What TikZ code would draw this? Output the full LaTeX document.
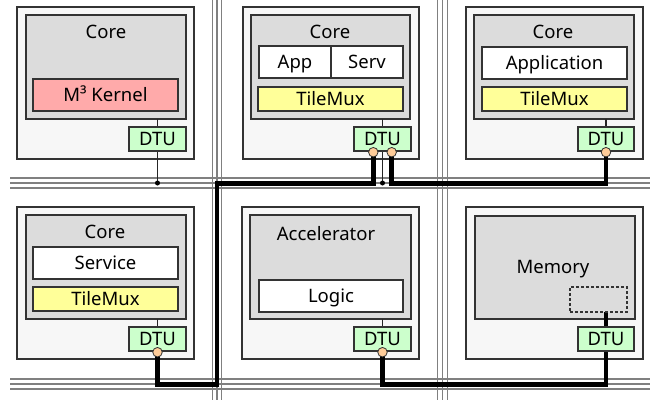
\documentclass[tikz,border=0pt]{standalone}
\usepackage{fontspec}
\setmainfont{Noto Sans}
\definecolor{tilebg}{HTML}{F7F7F7}
\definecolor{corebg}{HTML}{DCDCDC}
\definecolor{kernelc}{HTML}{FFAAAA}
\definecolor{muxc}{HTML}{FFFF99}
\definecolor{dtuc}{HTML}{CCFFCC}
\definecolor{portc}{HTML}{FFCC99}
\definecolor{busgray}{HTML}{808080}
\pgfdeclarelayer{bg}
\pgfdeclarelayer{wires}
\pgfsetlayers{bg,wires,main}
\begin{document}
\begin{tikzpicture}[x=1pt,y=-1pt,
 every node/.style={inner sep=0pt,outer sep=0pt,font=\fontsize{18.5}{22}\selectfont},
 bx/.style 2 args={minimum width=#1pt,minimum height=#2pt,anchor=north west},
 tile/.style={draw=black!80,line width=1.1pt,fill=tilebg},
 corebox/.style={draw=black!80,line width=1.1pt,fill=corebg},
 part/.style={draw=black!80,line width=1.1pt,fill=white,text height=13.3pt,text depth=0pt},
 dtubox/.style={part,fill=dtuc},
 portdot/.style={circle,draw=black!80,line width=0.8pt,fill=portc,minimum size=9.5pt},
 joint/.style={circle,fill=black,minimum size=5pt},
 busline/.style={draw=busgray,line width=1.2pt},
 wire/.style={draw=black!85,line width=1.1pt},
 trunk/.style={draw=black,line width=4.6pt},
]
\useasboundingbox (0,0) rectangle (654,400);

\begin{pgfonlayer}{bg}
% network grid
\foreach \yy in {178,183,188,379,384,389} \draw[busline] (10,\yy) -- (650,\yy);
\foreach \xx in {212.5,217,221.5,437.5,442.5,447.5} \draw[busline] (\xx,0) -- (\xx,400);
\node[tile,bx={177}{152}] (t1) at (17,7) {};
\node[corebox,bx={160}{104}] (k1) at (26,15) {};
\node[tile,bx={176}{152}] (t2) at (243,7) {};
\node[corebox,bx={159}{104}] (k2) at (251,15) {};
\node[tile,bx={177}{152}] (t3) at (466,7) {};
\node[corebox,bx={160}{104}] (k3) at (474,15) {};
\node[tile,bx={177}{152}] (t4) at (17,207) {};
\node[corebox,bx={160}{104}] (k4) at (26,215) {};
\node[tile,bx={177}{152}] (t5) at (242,207) {};
\node[corebox,bx={161}{104}] (k5) at (250,215) {};
\node[tile,bx={177}{152}] (t6) at (466,207) {};
\node[corebox,bx={160}{103}] (k6) at (475,216) {};
\end{pgfonlayer}

% labels
\node[anchor=base] (l1) at (106,38) {Core};
\node[anchor=base] (l2) at (330,38) {Core};
\node[anchor=base] (l3) at (553,38) {Core};
\node[anchor=base] (l4) at (105,238) {Core};
\node[anchor=base] (l5) at (326,240) {Accelerator};
\node[anchor=base] (l6) at (553,273) {Memory};

% parts
\node[part,fill=kernelc,bx={145}{32}] (kern) at (33,79) {M³ Kernel};
\node[part,bx={72}{32}] (app) at (259,46) {App};
\node[part,bx={72}{32}] (serv) at (331,46) {Serv};
\node[part,fill=muxc,bx={145}{24}] (mux2) at (258,87) {TileMux};
\node[part,bx={145}{32}] (appl) at (482,47) {Application};
\node[part,fill=muxc,bx={145}{24}] (mux3) at (482,87) {TileMux};
\node[part,bx={145}{32}] (svc) at (33,247) {Service};
\node[part,fill=muxc,bx={145}{24}] (mux4) at (33,287) {TileMux};
\node[part,bx={144}{32}] (logic) at (259,280) {Logic};
\node[draw=black!80,line width=1.1pt,dash pattern=on 3pt off 2pt,bx={57}{25}] (mem) at (570,287) {};

% DTUs
\node[dtubox,bx={57}{24}] (d1) at (129,127) {DTU};
\node[dtubox,bx={57}{24}] (d2) at (354,127) {DTU};
\node[dtubox,bx={56}{24}] (d3) at (578,127) {DTU};
\node[dtubox,bx={57}{24}] (d4) at (129,327) {DTU};
\node[dtubox,bx={57}{24}] (d5) at (354,327) {DTU};
\node[dtubox,bx={56}{24}] (d6) at (578,327) {DTU};

% ports and joints
\node[portdot,xshift=-9.2pt,yshift=-1.2pt] (c2a) at (d2.south) {};
\node[portdot,xshift=9.2pt,yshift=-1.2pt] (c2b) at (d2.south) {};
\node[portdot,yshift=-1.2pt] (c3) at (d3.south) {};
\node[portdot,yshift=-1.2pt] (c4) at (d4.south) {};
\node[portdot,yshift=-1.2pt] (c5) at (d5.south) {};
\node[joint] (j1) at (d1.south |- 0,183) {};
\node[joint] (j2) at (d2.south |- 0,183) {};

\coordinate (b1) at (217,384.5);
\coordinate (b2) at (217,183.5);

\begin{pgfonlayer}{wires}
\draw[wire] (d1.north |- k1.south) -- (d1.north);
\draw[wire] (d1.south) -- (j1.center);
\draw[wire] (d2.north |- k2.south) -- (d2.north);
\draw[wire] (d2.south) -- (j2.center);
\draw[wire] (d3.north |- k3.south) -- (d3.north);
\draw[wire] (d4.north |- k4.south) -- (d4.north);
\draw[wire] (d5.north |- k5.south) -- (d5.north);
\draw[trunk] (c4.center) -- (c4.center |- b1) -- (b1) -- (b2) -- (c2a.center |- b2) -- (c2a.center);
\draw[trunk] (c2b.center) -- (c2b.center |- b2) -- (c3.center |- b2) -- (c3.center);
\draw[trunk] (c5.center) -- (c5.center |- b1) -- (d6.center |- b1) -- (mem.south -| d6.center);
\end{pgfonlayer}
\end{tikzpicture}
\end{document}
